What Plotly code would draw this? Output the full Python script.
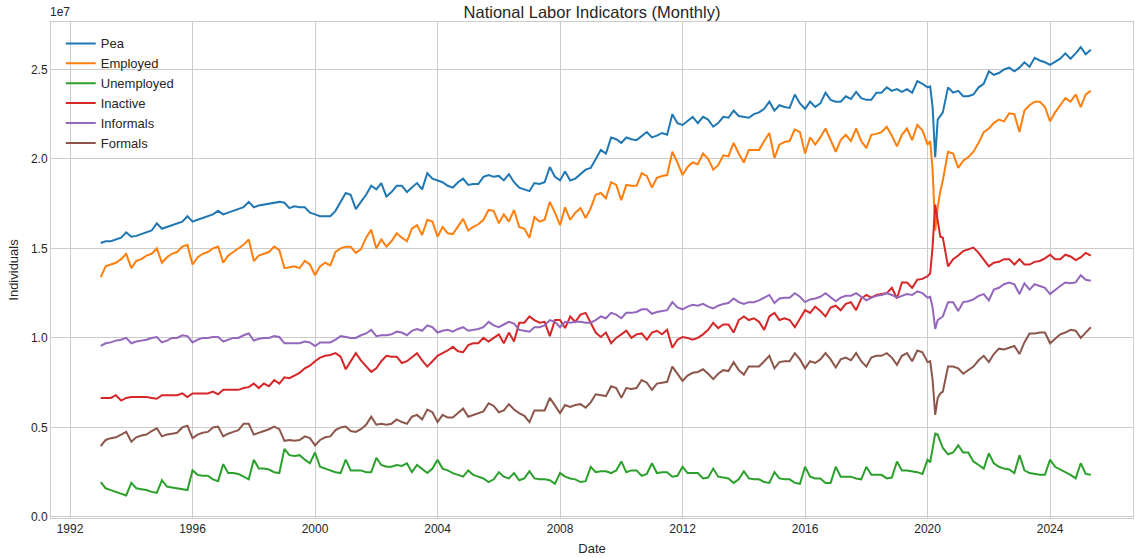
import plotly.graph_objects as go
import pandas as pd

# ---------------- data (values in millions of individuals) ----------------
def months_of(year):
    if year == 2020:
        return [1, 2, 3, 4, 5, 6, 7, 9, 11]
    if year == 2025:
        return [1, 3, 5]
    return [1, 3, 5, 7, 9, 11]

dates = [f"{y}-{m:02d}-01" for y in range(1993, 2026) for m in months_of(y)]

pea = [
    15.3, 15.4, 15.4, 15.5, 15.6, 15.9,
    15.65, 15.7, 15.8, 15.9, 16.0, 16.4,
    16.1, 16.2, 16.3, 16.4, 16.5, 16.8,
    16.5, 16.6, 16.7, 16.8, 16.9, 17.1,
    16.9, 17.0, 17.1, 17.2, 17.3, 17.6,
    17.3, 17.4, 17.45, 17.5, 17.55, 17.6,
    17.55, 17.25, 17.35, 17.3, 17.3, 17.0,
    16.9, 16.8, 16.8, 16.8, 17.1, 17.6,
    18.1, 18.0, 17.2, 17.6, 18.0, 18.5,
    18.3, 18.65, 17.9, 18.15, 18.5, 18.5,
    18.15, 18.4, 18.65, 18.3, 19.2, 18.9,
    18.8, 18.7, 18.5, 18.4, 18.7, 18.9,
    18.55, 18.6, 18.6, 19.0, 19.1, 19.0,
    19.05, 18.8, 19.15, 18.7, 18.4, 18.3,
    18.2, 18.65, 18.6, 18.7, 19.55, 19.0,
    18.8, 19.3, 18.8, 18.9, 19.15, 19.4,
    19.5, 20.0, 20.5, 20.3, 21.2, 21.1,
    20.9, 21.2, 21.1, 21.05, 21.3, 21.5,
    21.2, 21.3, 21.45, 21.35, 22.5, 22.0,
    21.9, 22.1, 22.35, 22.0, 22.35, 22.2,
    21.8, 22.0, 22.35, 22.3, 22.7, 22.4,
    22.35, 22.3, 22.5, 22.6, 22.8, 23.2,
    22.7, 23.0, 22.9, 22.85, 23.6, 23.1,
    22.8, 23.2, 22.9, 23.1, 23.7, 23.3,
    23.2, 23.2, 23.5, 23.35, 23.75, 23.4,
    23.3, 23.3, 23.7, 23.7, 24.0, 23.8,
    23.9, 23.75, 23.9, 23.7, 24.35, 24.2,
    24.0, 24.05, 22.9, 20.1, 22.2, 22.4, 22.6, 24.0, 23.7,
    23.8, 23.5, 23.5, 23.6, 24.0, 24.2,
    24.9, 24.7, 24.8, 25.0, 25.1, 24.9,
    25.1, 25.4, 25.15, 25.65, 25.5, 25.4,
    25.25, 25.4, 25.6, 25.9, 25.6, 25.9,
    26.25, 25.85, 26.1,
]

employed = [
    13.4, 14.0, 14.1, 14.2, 14.4, 14.7,
    13.9, 14.3, 14.4, 14.6, 14.7, 15.0,
    14.2, 14.5, 14.7, 14.8, 15.1, 15.2,
    14.1, 14.5, 14.7, 14.8, 15.0, 15.1,
    14.2, 14.6, 14.8, 15.0, 15.2, 15.5,
    14.3, 14.6, 14.7, 14.8, 15.1, 14.9,
    13.9, 13.95, 14.0, 13.9, 14.3, 14.1,
    13.5, 14.0, 14.2, 14.05, 14.8, 15.0,
    15.1, 15.1, 14.75, 14.95, 15.6, 16.05,
    15.0, 15.5, 15.1, 15.4, 15.85, 15.6,
    15.4, 16.1, 16.3, 15.75, 16.6, 16.5,
    15.65, 16.2, 15.85, 15.8, 16.2, 16.65,
    16.0, 16.2, 16.35, 16.6, 17.15, 17.1,
    16.4, 16.9, 16.5, 17.15, 16.2, 16.1,
    15.6, 16.75, 16.5, 16.6, 17.6, 17.0,
    16.3, 17.3, 16.6, 17.0, 17.25, 16.7,
    17.25, 18.0, 18.1, 17.8, 18.7, 18.55,
    17.7, 18.55, 18.5, 18.5, 19.2, 19.05,
    18.4, 18.95, 19.05, 19.1, 20.4, 19.8,
    19.1, 19.55, 19.8, 19.7, 20.3, 20.0,
    19.4, 19.65, 20.2, 20.15, 20.9, 20.3,
    19.8, 20.5, 20.5, 20.5, 21.0, 21.45,
    20.05, 20.8, 20.95, 21.0, 21.65, 21.5,
    20.3, 21.2, 20.8, 21.2, 21.7, 21.0,
    20.4, 21.05, 21.35, 21.0, 21.7, 21.0,
    20.6, 21.35, 21.4, 21.5, 21.8, 21.3,
    20.7, 21.35, 21.7, 21.05, 21.9, 21.6,
    20.8, 21.0, 19.4, 16.0, 17.3, 18.2, 18.8, 20.4, 20.3,
    19.5, 19.9, 20.1, 20.4, 20.9, 21.5,
    21.7, 22.0, 22.2, 22.1, 22.55, 22.5,
    21.5, 22.7, 23.0, 23.2, 23.2, 22.9,
    22.1, 22.6, 23.0, 23.4, 23.2, 23.6,
    22.9, 23.6, 23.8,
]

unemployed = [
    1.95, 1.6, 1.5, 1.4, 1.3, 1.2,
    1.9, 1.6, 1.55, 1.5, 1.4, 1.35,
    2.05, 1.7, 1.65, 1.6, 1.55, 1.5,
    2.6, 2.35, 2.3, 2.3, 2.1, 2.0,
    2.95, 2.45, 2.45, 2.4, 2.25, 2.1,
    3.2, 2.7, 2.7, 2.65, 2.5, 2.45,
    3.8, 3.45, 3.4, 3.45, 3.2, 3.0,
    3.6, 2.8, 2.7, 2.6, 2.5, 2.45,
    3.2, 2.6, 2.6, 2.6, 2.5, 2.5,
    3.3, 2.9, 2.8, 2.8, 2.9, 2.85,
    3.0, 2.5, 2.9, 2.7, 2.45, 2.7,
    3.2, 2.7, 2.6, 2.45, 2.35, 2.25,
    2.6, 2.35, 2.25, 2.15, 1.95, 2.1,
    2.5, 2.25, 2.15, 2.45, 2.05, 2.15,
    2.55, 2.15, 2.1, 2.1, 2.05, 1.85,
    2.45, 2.25, 2.15, 2.1, 1.95, 2.0,
    2.8, 2.5, 2.55, 2.55, 2.45, 2.6,
    3.1, 2.5, 2.6, 2.6, 2.3, 2.4,
    3.0, 2.45, 2.5, 2.5, 2.25, 2.3,
    2.8, 2.45, 2.45, 2.45, 2.15, 2.2,
    2.7, 2.25, 2.2, 2.15, 1.9, 2.1,
    2.55, 2.15, 2.1, 2.1, 1.95, 1.9,
    2.5, 2.15, 2.1, 2.1, 1.9, 1.85,
    2.8, 2.25, 2.15, 2.15, 1.9, 1.9,
    2.8, 2.25, 2.25, 2.25, 2.15, 2.1,
    2.8, 2.35, 2.35, 2.35, 2.15, 2.2,
    3.1, 2.6, 2.6, 2.55, 2.5, 2.4,
    3.2, 3.05, 3.75, 4.65, 4.6, 4.2, 3.85, 3.5, 3.6,
    4.0, 3.6, 3.6, 3.1, 2.9, 2.7,
    3.55, 3.0, 2.8, 2.7, 2.65, 2.45,
    3.45, 2.6, 2.45, 2.4, 2.35, 2.35,
    3.2, 2.8, 2.65, 2.5, 2.35, 2.15,
    3.0, 2.4, 2.35,
]

inactive = [
    6.65, 6.65, 6.65, 6.8, 6.5, 6.65,
    6.7, 6.7, 6.7, 6.7, 6.65, 6.6,
    6.8, 6.8, 6.8, 6.8, 6.9, 6.7,
    6.9, 6.9, 6.9, 6.9, 7.0, 6.85,
    7.1, 7.1, 7.1, 7.1, 7.2, 7.25,
    7.45, 7.2, 7.45, 7.3, 7.65, 7.45,
    7.8, 7.75, 7.9, 8.05, 8.3, 8.45,
    8.7, 8.9, 9.0, 9.05, 9.15, 8.95,
    8.25, 8.7, 9.15, 8.75, 8.4, 8.1,
    8.3, 8.7, 9.0, 8.95, 8.95, 8.6,
    8.7, 8.9, 9.15, 8.75, 8.4, 8.7,
    9.0, 9.15, 9.3, 9.5, 9.25, 9.2,
    9.6, 9.7, 9.7, 10.0, 9.8, 10.0,
    10.2, 9.7, 10.3, 9.8, 10.85, 10.85,
    11.2, 11.0, 10.85, 10.9, 10.1, 11.0,
    11.0, 10.55, 11.2, 10.9, 11.3, 11.4,
    10.85, 10.3, 10.05, 10.3, 9.7, 10.0,
    10.2, 10.4, 10.0, 10.2, 10.25, 9.9,
    10.3, 10.4, 10.2, 10.45, 9.45, 9.9,
    10.05, 10.0, 9.9, 10.0, 10.2, 10.45,
    10.85, 10.55, 10.75, 10.75, 10.3, 11.0,
    11.2, 11.0, 11.1, 10.9, 10.45, 11.2,
    11.4, 11.0, 11.1, 11.0, 10.6, 11.1,
    11.55, 11.4, 11.75, 11.5, 11.2, 11.7,
    11.8, 11.55, 11.9, 12.0, 11.55, 12.2,
    12.4, 12.25, 12.4, 12.45, 12.5, 12.8,
    12.2, 13.1, 13.1, 12.8, 13.25, 13.3,
    13.45, 13.6, 15.1, 17.45, 16.6, 15.65, 15.6, 14.0, 14.4,
    14.6, 14.85, 14.95, 15.05, 14.75, 14.4,
    14.0, 14.2, 14.25, 14.4, 14.4, 14.1,
    14.4, 14.1, 14.1, 14.25, 14.3, 14.45,
    14.65, 14.4, 14.4, 14.65, 14.55, 14.35,
    14.5, 14.75, 14.6,
]

informals = [
    9.55, 9.7, 9.75, 9.85, 9.9, 10.0,
    9.7, 9.8, 9.85, 9.9, 10.0, 10.05,
    9.75, 9.85, 10.0, 10.0, 10.15, 10.1,
    9.75, 9.9, 10.0, 10.0, 10.05, 10.05,
    9.8, 9.9, 10.0, 10.0, 10.15, 10.25,
    9.85, 9.95, 10.0, 10.0, 10.1, 10.05,
    9.7, 9.7, 9.7, 9.7, 9.8, 9.75,
    9.55, 9.75, 9.75, 9.75, 9.9, 10.1,
    10.05, 10.0, 10.0, 10.15, 10.25, 10.45,
    10.1, 10.15, 10.15, 10.2, 10.35, 10.3,
    10.15, 10.4, 10.5, 10.4, 10.7, 10.6,
    10.3, 10.4, 10.45, 10.35, 10.5, 10.6,
    10.4, 10.45, 10.5, 10.6, 10.9, 10.7,
    10.6, 10.75, 10.9, 10.8, 10.45, 10.4,
    10.35, 10.6, 10.6, 10.7, 11.0, 10.9,
    10.6, 10.9, 10.85, 10.9, 10.9, 10.85,
    10.85, 11.0, 11.2, 11.1, 11.4, 11.3,
    11.1, 11.4, 11.4, 11.45, 11.6, 11.6,
    11.35, 11.45, 11.5, 11.55, 12.0, 11.7,
    11.6, 11.75, 11.85, 11.8, 11.9, 11.75,
    11.65, 11.8, 11.9, 11.95, 12.2, 12.0,
    11.9, 12.0, 12.0, 12.1, 12.25, 12.4,
    11.95, 12.2, 12.25, 12.25, 12.5, 12.3,
    12.0, 12.15, 12.2, 12.3, 12.5, 12.3,
    12.05, 12.25, 12.35, 12.35, 12.5, 12.3,
    12.1, 12.25, 12.35, 12.4, 12.5, 12.4,
    12.25, 12.35, 12.45, 12.4, 12.6, 12.5,
    12.25, 12.3, 11.7, 10.5, 11.0, 11.1, 11.2, 12.0, 12.0,
    11.5, 12.0, 12.05, 12.15, 12.35, 12.45,
    12.1, 12.7, 12.8, 13.0, 13.1, 13.0,
    12.45, 13.05, 12.7, 13.0, 12.9, 12.8,
    12.45, 12.7, 12.9, 13.1, 13.05, 13.1,
    13.5, 13.25, 13.2,
]

formals = [
    3.95, 4.3, 4.4, 4.45, 4.6, 4.75,
    4.2, 4.45, 4.55, 4.6, 4.8, 4.95,
    4.5, 4.6, 4.65, 4.7, 5.0, 5.1,
    4.4, 4.6, 4.7, 4.75, 5.0, 5.05,
    4.5, 4.65, 4.75, 4.85, 5.2, 5.2,
    4.6, 4.7, 4.8, 4.9, 5.05, 4.9,
    4.25, 4.3, 4.25, 4.3, 4.5, 4.4,
    4.0, 4.3, 4.45, 4.5, 4.85, 5.0,
    5.05, 4.8, 4.75, 4.9, 5.15, 5.6,
    5.15, 5.2, 5.15, 5.2, 5.45, 5.3,
    5.2, 5.6, 5.7, 5.45, 6.0, 5.85,
    5.3, 5.7, 5.55, 5.55, 5.8, 6.05,
    5.6, 5.7, 5.8, 5.9, 6.35, 6.2,
    5.85, 5.95, 6.3, 6.0, 5.8, 5.65,
    5.3, 5.95, 5.95, 5.95, 6.65, 6.2,
    5.8, 6.25, 6.15, 6.25, 6.3, 6.1,
    6.4, 6.85, 6.8, 6.75, 7.3, 7.2,
    6.65, 7.2, 7.15, 7.2, 7.65, 7.5,
    7.1, 7.45, 7.5, 7.55, 8.4, 8.0,
    7.6, 7.9, 8.05, 8.1, 8.25, 8.0,
    7.7, 8.0, 8.2, 8.15, 8.65, 8.2,
    7.95, 8.4, 8.4, 8.4, 8.7, 9.0,
    8.3, 8.65, 8.7, 8.7, 9.15, 8.8,
    8.3, 8.7, 8.6, 8.8, 9.15, 8.8,
    8.35, 8.8, 8.9, 8.75, 9.15, 8.7,
    8.4, 8.9, 9.0, 9.0, 9.15, 8.9,
    8.5, 9.0, 9.15, 8.7, 9.3, 9.2,
    8.65, 8.7, 7.65, 5.7, 6.65, 6.9, 7.0, 8.4, 8.4,
    8.3, 8.0, 8.2, 8.4, 8.75, 9.0,
    8.65, 9.1, 9.4, 9.35, 9.45, 9.55,
    9.1, 9.75, 10.25, 10.25, 10.3, 10.3,
    9.7, 9.95, 10.2, 10.3, 10.45, 10.4,
    10.0, 10.3, 10.6,
]

series_names = ["Pea", "Employed", "Unemployed", "Inactive", "Informals", "Formals"]
series_values = [pea, employed, unemployed, inactive, informals, formals]
series_colors = ["#1f77b4", "#ff7f0e", "#2ca02c", "#d62728", "#9467bd", "#8c564b"]

for vals in series_values:
    assert len(vals) == len(dates), (len(vals), len(dates))

# ---------------- figure ----------------
FONT = "Liberation Sans, Arial, DejaVu Sans, sans-serif"
TXT = "#262626"
GRID = "#cccccc"

x = pd.to_datetime(dates)
fig = go.Figure()
for name, vals, color in zip(series_names, series_values, series_colors):
    fig.add_trace(go.Scatter(
        x=x, y=[v * 1e6 / 1e7 for v in vals], mode="lines", name=name,
        line=dict(color=color, width=2),
    ))

fig.update_layout(
    width=1135, height=558,
    margin=dict(l=51, r=2, t=22, b=40, autoexpand=False),
    paper_bgcolor="white", plot_bgcolor="white",
    font=dict(family=FONT, color=TXT, size=12),
    title=dict(text="National Labor Indicators (Monthly)", x=0.5, xref="paper",
               xanchor="center", y=1 - 12 / 558, yref="container", yanchor="middle",
               font=dict(size=16.5, color=TXT, family=FONT)),
    showlegend=True,
    legend=dict(x=0.009, y=0.987, xanchor="left", yanchor="top",
                bgcolor="rgba(0,0,0,0)", borderwidth=0,
                font=dict(size=13, color=TXT, family=FONT)),
)

fig.update_xaxes(
    type="date", range=["1991-05-19", "2026-09-16"],
    tick0="1992-01-01", dtick="M48", tickformat="%Y",
    showgrid=True, gridcolor=GRID, gridwidth=1,
    showline=True, linecolor=GRID, linewidth=1, mirror=True,
    zeroline=False, ticks="", automargin=False,
    tickfont=dict(size=12, color=TXT),
    title=dict(text="Date", font=dict(size=13, color=TXT), standoff=8),
)
fig.update_yaxes(
    range=[-0.006, 2.765], tick0=0, dtick=0.5, tickformat=".1f",
    showgrid=True, gridcolor=GRID, gridwidth=1,
    showline=True, linecolor=GRID, linewidth=1, mirror=True,
    zeroline=False, ticks="", automargin=False,
    tickfont=dict(size=12, color=TXT),
    title=dict(text="Individuals", font=dict(size=13, color=TXT), standoff=9),
)

# matplotlib-style offset label above the y axis
fig.add_annotation(text="1e7", xref="paper", yref="paper",
                   x=(60 - 51) / 1082, y=1 + (22 - 12) / 496,
                   xanchor="center", yanchor="middle",
                   showarrow=False, font=dict(size=12, color=TXT, family=FONT))

fig.write_html(
    "out.html",
    config={"displayModeBar": False},
    post_script="document.body.style.margin='0';document.body.style.overflow='hidden';",
)
